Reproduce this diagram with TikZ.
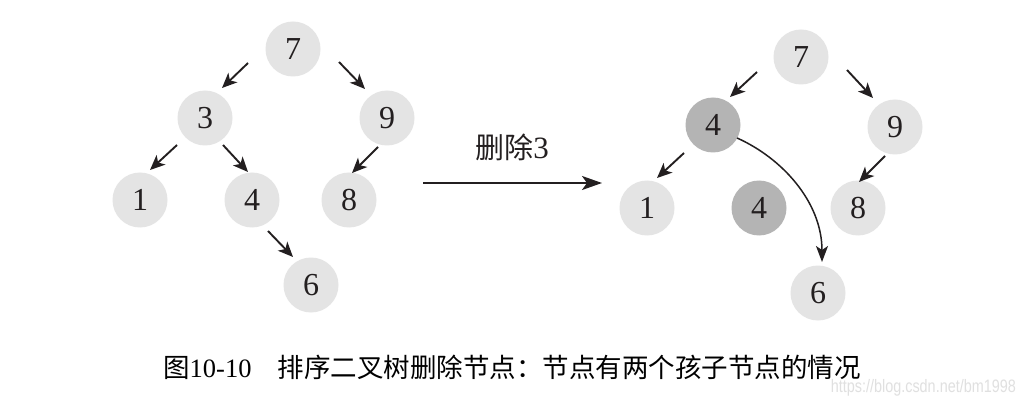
\documentclass[tikz,border=0pt]{standalone}
\usepackage{fontspec}
\setmainfont{Liberation Serif}
\newfontfamily\cjk{Noto Sans CJK SC}
\newfontfamily\wmfont[FakeStretch=0.8]{Liberation Sans}
\usetikzlibrary{arrows.meta,calc}
\definecolor{nodelight}{HTML}{E4E4E4}
\definecolor{nodedark}{HTML}{B4B4B4}
\definecolor{wmgray}{HTML}{E0E0E0}
\definecolor{ink}{HTML}{231F20}
\begin{document}
\begin{tikzpicture}[x=1pt,y=-1pt,
  tnode/.style={circle,fill=nodelight,minimum size=55pt,inner sep=0pt,
    font=\fontsize{32}{32}\selectfont,text=ink},
  dnode/.style={tnode,fill=nodedark},
  arr/.style={draw=ink,line width=1.9pt,-{Stealth[length=15pt,width=13pt,inset=4pt]}},
  carr/.style={draw=ink,line width=1.5pt,-{Stealth[length=16pt,width=12pt,inset=4pt]}}]
\useasboundingbox (0,0) rectangle (1025,406);
\fill[white] (0,0) rectangle (1025,406);
% left tree
\node[tnode] (l7) at (293,49) {7};
\node[tnode] (l3) at (205,118) {3};
\node[tnode] (l9) at (387,118) {9};
\node[tnode] (l1) at (140,200) {1};
\node[tnode] (l4) at (252,200) {4};
\node[tnode] (l8) at (349,200) {8};
\node[tnode] (l6) at (311,285) {6};
\draw[arr] ($(l7)+(-45,14)$) -- ($(l3)+(17,-30)$);
\draw[arr] ($(l7)+(46,13)$) -- ($(l9)+(-22,-29)$);
\draw[arr] ($(l3)+(-28,27)$) -- ($(l1)+(10,-30)$);
\draw[arr] ($(l3)+(18,27)$) -- ($(l4)+(-4,-28)$);
\draw[arr] ($(l9)+(-9,29)$) -- ($(l8)+(3,-27)$);
\draw[arr] ($(l4)+(16,31)$) -- ($(l6)+(-18,-28)$);
% middle arrow
\coordinate (as) at (423,183);
\coordinate (ae) at (602,183);
\draw[arr,line width=2pt,-{Stealth[length=20pt,width=14pt,inset=5pt]}] (as) -- (ae);
\node[font=\cjk\fontsize{29}{29}\selectfont,text=ink] (lbl) at (512,147) {删除{\rmfamily\fontsize{31}{31}\selectfont 3}};
% right tree
\node[tnode] (r7) at (801,57) {7};
\node[dnode] (r4) at (713,125) {4};
\node[tnode] (r9) at (895,127) {9};
\node[tnode] (r1) at (647,208) {1};
\node[dnode] (r4b) at (759,208) {4};
\node[tnode] (r8) at (858,208) {8};
\node[tnode] (r6) at (818,293) {6};
\draw[arr] ($(r7)+(-44,15)$) -- ($(r4)+(17,-28)$);
\draw[arr] ($(r7)+(46,13)$) -- ($(r9)+(-22,-29)$);
\draw[arr] ($(r4)+(-29,28)$) -- ($(r1)+(10,-30)$);
\draw[arr] ($(r9)+(-10,29)$) -- ($(r8)+(1,-26)$);
\draw[carr] ($(r4)+(24,13)$) .. controls +(45,20) and +(0,-60) .. ($(r6)+(4,-31)$);
% caption
\node[anchor=west,font=\cjk\fontsize{26.5}{26.5}\selectfont,text=black,inner sep=0pt] (cap) at (163,367)
  {图{\rmfamily 10-10}\hspace{26pt}排序二叉树删除节点：节点有两个孩子节点的情况};
\node[anchor=east,font=\wmfont\fontsize{18}{18}\selectfont,text=wmgray,inner sep=0pt] (wm) at (1016,388) {https://blog.csdn.net/bm1998};
\end{tikzpicture}
\end{document}
